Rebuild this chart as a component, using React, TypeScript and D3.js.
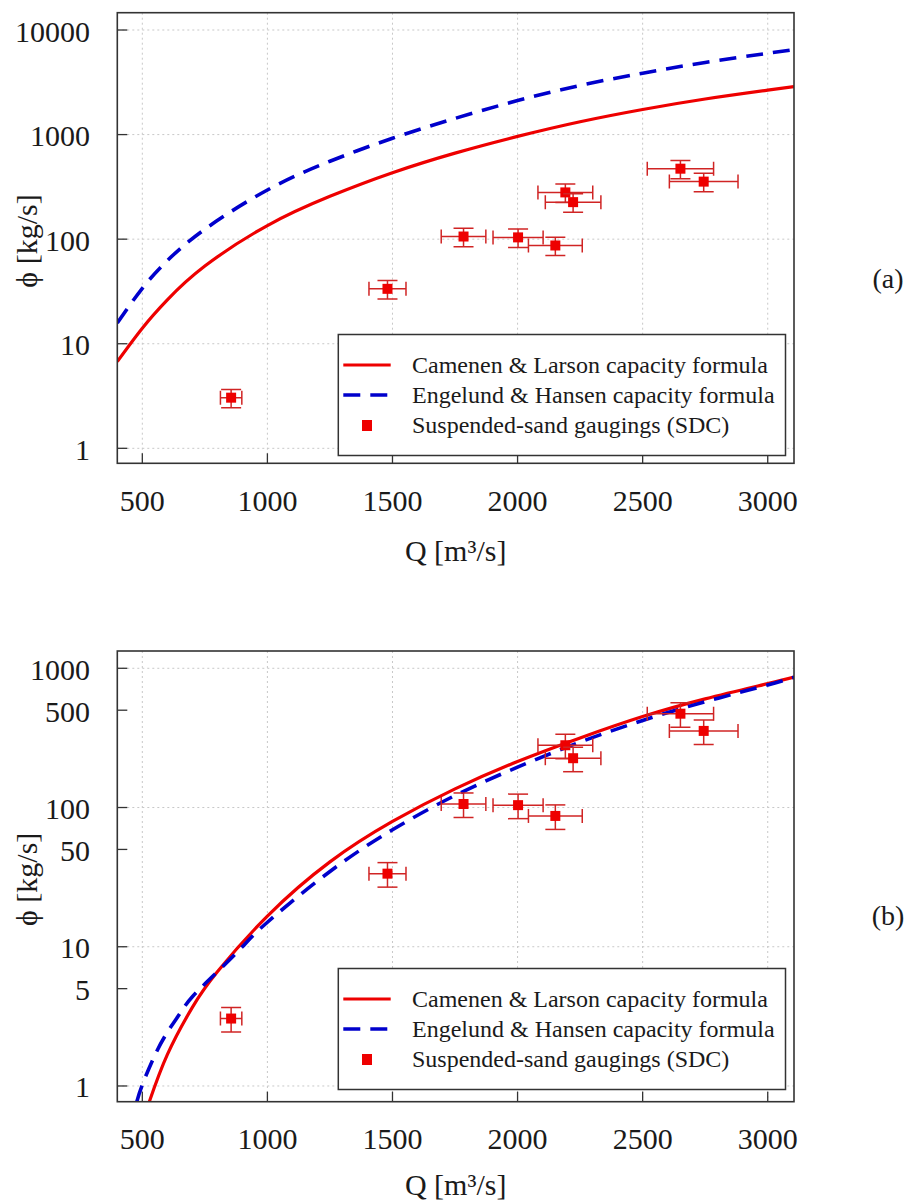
import React from "react";
import * as d3 from "d3";

// ---------- data ----------
const xTicks = [500, 1000, 1500, 2000, 2500, 3000];

// observations (suspended-sand gaugings)
const obsQ = [855, 1480, 1784, 2002, 2151, 2191, 2222, 2651, 2744];
const obsPhi = [3.05, 33.5, 106, 104, 87, 280, 226, 472, 355];
const errQFrac = 0.05;
const errPhiFrac = 0.2;

// panel (a)
const topQ = [400, 500, 600, 750, 1000, 1250, 1500, 1750, 2000, 2250, 2500, 2750, 3000, 3105];
const topCL = [6.76, 14.1, 26.3, 55.3, 135, 257, 432, 665, 961, 1327, 1738, 2188, 2661, 2877];
const topEH = [15.8, 33.9, 62.4, 124.5, 295, 556, 923, 1429, 2113, 2951, 3868, 4898, 5992, 6501];
const topYTicks = [1, 10, 100, 1000, 10000];
const topGrid = [1, 10, 100, 1000, 10000];

// panel (b)
const botQCL = [528, 600, 700, 800, 1000, 1250, 1500, 1750, 2000, 2250, 2500, 2750, 3000, 3105];
const botCL = [0.771, 1.68, 3.67, 6.61, 16.6, 40.7, 79.4, 136, 214, 316, 450, 603, 776, 865];
const botQEH = [478, 500, 550, 600, 650, 700, 800, 900, 1000, 1250, 1500, 1750, 2000, 2250, 2500, 2750, 3000, 3105];
const botEH = [0.771, 1.02, 1.66, 2.43, 3.31, 4.37, 6.61, 10.0, 15.0, 34.7, 69.2, 122, 195, 295, 422, 575, 759, 861];
const botYTicks = [1, 5, 10, 50, 100, 500, 1000];
const botGrid = [1, 10, 100, 1000];

const legendLabels = [
  "Camenen & Larson capacity formula",
  "Engelund & Hansen capacity formula",
  "Suspended-sand gaugings (SDC)",
];

// ---------- style ----------
const FONT = "'Liberation Serif', 'Times New Roman', serif";
const RED = "#ee0000";
const ERR = "#d02424";
const BLUE = "#0000cc";
const FRAME = "#333333";
const GRID = "#c8c8c8";
const TEXT = "#1a1a1a";

const LEFT = 117.3;
const RIGHT = 794;
const xDomain: [number, number] = [400, 3105];

type PanelProps = {
  id: string;
  top: number;
  bottom: number;
  yDomain: [number, number];
  yTicks: number[];
  grid: number[];
  clQ: number[];
  cl: number[];
  ehQ: number[];
  eh: number[];
  tag: string;
  tagY: number;
  legendTop: number;
  titleOffset: number;
};

function Panel(p: PanelProps) {
  const x = d3.scaleLinear().domain(xDomain).range([LEFT, RIGHT]);
  const y = d3.scaleLog().domain(p.yDomain).range([p.bottom, p.top]);
  const line = d3
    .line<[number, number]>()
    .x((d) => x(d[0]))
    .y((d) => y(d[1]))
    .curve(d3.curveNatural);
  const clPath = line(p.clQ.map((q, i) => [q, p.cl[i]] as [number, number])) || "";
  const ehPath = line(p.ehQ.map((q, i) => [q, p.eh[i]] as [number, number])) || "";
  const tickLen = 10;
  const lg = { x0: 338.3, x1: 785.5, y0: p.legendTop, h: 121 };
  return (
    <g>
      <defs>
        <clipPath id={`clip-${p.id}`}>
          <rect x={LEFT} y={p.top} width={RIGHT - LEFT} height={p.bottom - p.top} />
        </clipPath>
      </defs>
      {/* grid */}
      {xTicks.map((t) => (
        <line key={"gx" + t} x1={x(t)} x2={x(t)} y1={p.top} y2={p.bottom} stroke={GRID} strokeWidth={1} strokeDasharray="2,3" />
      ))}
      {p.grid.map((t) => (
        <line key={"gy" + t} x1={LEFT} x2={RIGHT} y1={y(t)} y2={y(t)} stroke={GRID} strokeWidth={1} strokeDasharray="2,3" />
      ))}
      {/* ticks */}
      {xTicks.map((t) => (
        <line key={"tx" + t} x1={x(t)} x2={x(t)} y1={p.bottom} y2={p.bottom - tickLen} stroke={FRAME} strokeWidth={1.3} />
      ))}
      {p.yTicks.map((t) => (
        <line key={"ty" + t} x1={LEFT} x2={LEFT + tickLen} y1={y(t)} y2={y(t)} stroke={FRAME} strokeWidth={1.3} />
      ))}
      {/* curves */}
      <g clipPath={`url(#clip-${p.id})`}>
        <path d={clPath} fill="none" stroke={RED} strokeWidth={3.2} />
        <path d={ehPath} fill="none" stroke={BLUE} strokeWidth={3.6} strokeDasharray="17,10" />
      </g>
      {/* observations */}
      <g clipPath={`url(#clip-${p.id})`}>
        {obsQ.map((q, i) => {
          const cx = x(q);
          const cy = y(obsPhi[i]);
          const xl = x(q * (1 - errQFrac));
          const xr = x(q * (1 + errQFrac));
          const yt = y(obsPhi[i] * (1 + errPhiFrac));
          const yb = y(obsPhi[i] * (1 - errPhiFrac));
          return (
            <g key={"o" + i}>
              <g stroke={ERR} strokeWidth={1.5} fill="none">
                <line x1={xl} x2={xr} y1={cy} y2={cy} />
                <line x1={xl} x2={xl} y1={cy - 7} y2={cy + 7} />
                <line x1={xr} x2={xr} y1={cy - 7} y2={cy + 7} />
                <line x1={cx} x2={cx} y1={yt} y2={yb} />
                <line x1={cx - 10} x2={cx + 10} y1={yt} y2={yt} />
                <line x1={cx - 10} x2={cx + 10} y1={yb} y2={yb} />
              </g>
              <rect x={cx - 5} y={cy - 5} width={10} height={10} fill={RED} />
            </g>
          );
        })}
      </g>
      {/* legend */}
      <rect x={lg.x0} y={lg.y0} width={lg.x1 - lg.x0} height={lg.h} fill="white" stroke={FRAME} strokeWidth={1.5} />
      <line x1={343.3} x2={390.7} y1={lg.y0 + 30.5} y2={lg.y0 + 30.5} stroke={RED} strokeWidth={3.2} />
      <line x1={343.3} x2={390.7} y1={lg.y0 + 60.5} y2={lg.y0 + 60.5} stroke={BLUE} strokeWidth={3.6} strokeDasharray="17,10" />
      <rect x={362} y={lg.y0 + 85.5} width={10} height={11} fill={RED} />
      {legendLabels.map((s, i) => (
        <text key={"l" + i} x={412} y={lg.y0 + 30.5 + i * 30 + 8} fontFamily={FONT} fontSize={24} fill={TEXT}>
          {s}
        </text>
      ))}
      {/* frame */}
      <rect x={LEFT} y={p.top} width={RIGHT - LEFT} height={p.bottom - p.top} fill="none" stroke={FRAME} strokeWidth={1.6} />
      {/* tick labels */}
      {xTicks.map((t) => (
        <text key={"lx" + t} x={x(t)} y={p.bottom + 47.3} textAnchor="middle" fontFamily={FONT} fontSize={30} fill={TEXT}>
          {t}
        </text>
      ))}
      {p.yTicks.map((t) => (
        <text key={"ly" + t} x={90} y={y(t) + 11.5} textAnchor="end" fontFamily={FONT} fontSize={30} fill={TEXT}>
          {t}
        </text>
      ))}
      {/* axis titles */}
      <text x={(LEFT + RIGHT) / 2} y={p.bottom + p.titleOffset} textAnchor="middle" fontFamily={FONT} fontSize={30} fill={TEXT}>
        Q [m³/s]
      </text>
      <text
        transform={`translate(37,${(p.top + p.bottom) / 2 + 3}) rotate(-90)`}
        textAnchor="middle"
        fontFamily={FONT}
        fontSize={30}
        fill={TEXT}
      >
        ϕ [kg/s]
      </text>
      <text x={888} y={p.tagY} textAnchor="middle" fontFamily={FONT} fontSize={28} fill={TEXT}>
        {p.tag}
      </text>
    </g>
  );
}

export default function App() {
  return (
    <svg
      width={912}
      height={1202}
      viewBox="0 0 912 1202"
      style={{ position: "absolute", left: 0, top: 0, background: "white" }}
    >
      <rect x={0} y={0} width={912} height={1202} fill="white" />
      <Panel
        id="a"
        top={12.7}
        bottom={463.3}
        yDomain={[0.719, 14640]}
        yTicks={topYTicks}
        grid={topGrid}
        clQ={topQ}
        cl={topCL}
        ehQ={topQ}
        eh={topEH}
        tag="(a)"
        tagY={288}
        legendTop={334.5}
        titleOffset={97.3}
      />
      <Panel
        id="b"
        top={651}
        bottom={1101.7}
        yDomain={[0.771, 1331]}
        yTicks={botYTicks}
        grid={botGrid}
        clQ={botQCL}
        cl={botCL}
        ehQ={botQEH}
        eh={botEH}
        tag="(b)"
        tagY={925}
        legendTop={968.5}
        titleOffset={93.5}
      />
    </svg>
  );
}
